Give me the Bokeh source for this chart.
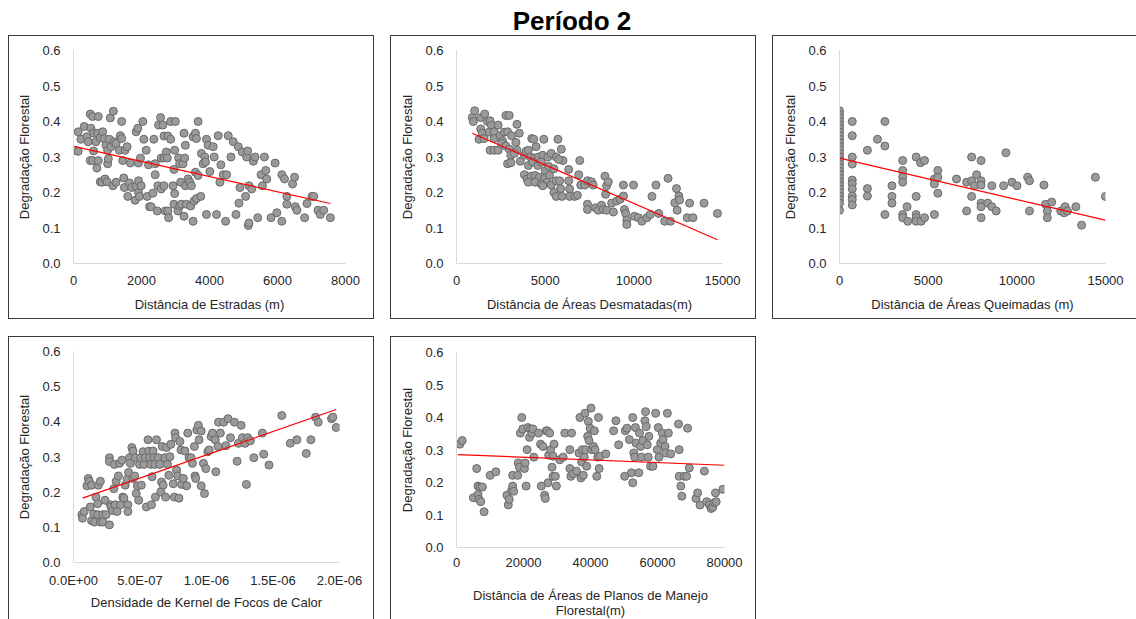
from bokeh.plotting import figure
from bokeh.layouts import row, column
from bokeh.models import Div, FixedTicker, PrintfTickFormatter, CustomJSTickFormatter, ColumnDataSource
from bokeh.embed import file_html
from bokeh.resources import INLINE

# ---------------- DATA ----------------
title_text = "Período 2"
y_label = "Degradação Florestal"
y_ticks = [0.0, 0.1, 0.2, 0.3, 0.4, 0.5, 0.6]

# Panel 1: Distância de Estradas (m)
estradas_label = "Distância de Estradas (m)"
estradas_ticks = [0, 2000, 4000, 6000, 8000]
estradas_pts = [
    (40, 0.319), (138, 0.316), (138, 0.371), (217, 0.35), (315, 0.386), (394, 0.357), (433, 0.343),
    (493, 0.421), (561, 0.414), (729, 0.414), (512, 0.381), (591, 0.367), (660, 0.343), (709, 0.367),
    (788, 0.354), (857, 0.371), (906, 0.352), (955, 0.333), (1054, 0.35), (493, 0.29), (561, 0.29),
    (591, 0.317), (689, 0.269), (729, 0.29), (788, 0.23), (837, 0.229), (926, 0.238), (985, 0.23),
    (1005, 0.281), (1025, 0.295), (1005, 0.319), (1103, 0.329), (1083, 0.41), (1172, 0.429),
    (1202, 0.343), (1251, 0.338), (1162, 0.219), (1251, 0.229), (1350, 0.319), (1379, 0.36),
    (1418, 0.352), (1418, 0.4), (1448, 0.29), (1478, 0.241), (1497, 0.214), (1517, 0.319),
    (1576, 0.329), (1596, 0.189), (1645, 0.227), (1674, 0.283), (1714, 0.214), (1812, 0.178),
    (1842, 0.217), (1842, 0.371), (1891, 0.381), (1911, 0.283), (1911, 0.233), (1911, 0.2),
    (1940, 0.189), (1970, 0.297), (1990, 0.219), (2039, 0.4), (2069, 0.35), (2138, 0.319),
    (2167, 0.189), (2207, 0.278), (2236, 0.16), (2285, 0.16), (2335, 0.198), (2364, 0.35),
    (2403, 0.25), (2403, 0.281), (2463, 0.148), (2482, 0.219), (2502, 0.39), (2561, 0.411),
    (2581, 0.21), (2581, 0.297), (2630, 0.39), (2660, 0.297), (2660, 0.219), (2660, 0.359),
    (2699, 0.148), (2729, 0.314), (2758, 0.297), (2778, 0.148), (2798, 0.129), (2778, 0.359),
    (2857, 0.4), (2857, 0.35), (2926, 0.219), (2955, 0.265), (2955, 0.167), (2975, 0.197),
    (2975, 0.319), (2995, 0.4), (3073, 0.148), (3093, 0.297), (3123, 0.162), (3123, 0.281),
    (3153, 0.229), (3172, 0.167), (3221, 0.281), (3251, 0.367), (3251, 0.133), (3270, 0.297),
    (3290, 0.219), (3290, 0.333), (3320, 0.167), (3369, 0.238), (3418, 0.229), (3448, 0.162),
    (3467, 0.219), (3517, 0.357), (3517, 0.119), (3546, 0.176), (3586, 0.257), (3586, 0.367),
    (3615, 0.352), (3615, 0.183), (3665, 0.4), (3665, 0.248), (3743, 0.189), (3763, 0.31),
    (3813, 0.281), (3862, 0.3), (3882, 0.286), (3911, 0.138), (3911, 0.35), (3960, 0.333),
    (4010, 0.259), (4108, 0.329), (4138, 0.3), (4207, 0.138), (4256, 0.36), (4305, 0.229),
    (4335, 0.278), (4404, 0.25), (4473, 0.119), (4502, 0.25), (4551, 0.36), (4630, 0.3),
    (4699, 0.343), (4778, 0.138), (4847, 0.329), (4866, 0.17), (4896, 0.214), (4965, 0.314),
    (5063, 0.189), (5093, 0.3), (5122, 0.317), (5142, 0.107), (5161, 0.114), (5161, 0.219),
    (5240, 0.21), (5290, 0.288), (5339, 0.3), (5418, 0.129), (5516, 0.25), (5556, 0.219),
    (5615, 0.3), (5654, 0.262), (5684, 0.238), (5812, 0.129), (5930, 0.283), (5980, 0.143),
    (6127, 0.119), (6127, 0.25), (6206, 0.238), (6275, 0.189), (6275, 0.167), (6443, 0.224),
    (6502, 0.243), (6522, 0.16), (6571, 0.15), (6798, 0.129), (6867, 0.169), (7015, 0.189),
    (7063, 0.189), (7191, 0.15), (7260, 0.138), (7358, 0.15), (7555, 0.129),
]
estradas_trend_x = [40, 7555]
estradas_trend_y = [0.329, 0.169]

# Panel 2: Distância de Áreas Desmatadas(m)
desmat_label = "Distância de Áreas Desmatadas(m)"
desmat_ticks = [0, 5000, 10000, 15000]
desmat_pts = [
    (890, 0.411), (1023, 0.43), (947, 0.4), (1364, 0.411), (1591, 0.421), (1742, 0.4), (1894, 0.402),
    (1970, 0.389), (1364, 0.379), (1458, 0.367), (1269, 0.35), (1553, 0.352), (1837, 0.37),
    (2121, 0.371), (2121, 0.352), (2348, 0.39), (2462, 0.36), (2595, 0.345), (2689, 0.37),
    (2784, 0.417), (2973, 0.417), (2879, 0.371), (3106, 0.36), (3409, 0.392), (3542, 0.367),
    (1894, 0.319), (2121, 0.319), (2348, 0.319), (2538, 0.338), (2784, 0.331), (2973, 0.322),
    (3068, 0.305), (3352, 0.341), (3409, 0.319), (2879, 0.281), (3068, 0.284), (3258, 0.31),
    (3598, 0.288), (3826, 0.305), (3920, 0.316), (4053, 0.319), (4242, 0.352), (4356, 0.35),
    (4489, 0.329), (4924, 0.35), (4167, 0.3), (4394, 0.297), (4621, 0.3), (4867, 0.305),
    (5151, 0.3), (5340, 0.31), (5624, 0.3), (5719, 0.35), (5908, 0.322), (6003, 0.29),
    (4053, 0.276), (4299, 0.286), (4583, 0.276), (4773, 0.286), (4999, 0.262), (5189, 0.274),
    (5492, 0.267), (5757, 0.293), (3826, 0.25), (3977, 0.238), (4204, 0.246), (4431, 0.248),
    (4678, 0.243), (4962, 0.24), (5246, 0.248), (4053, 0.229), (4431, 0.229), (4773, 0.224),
    (5113, 0.229), (5340, 0.221), (5624, 0.233), (5814, 0.233), (4867, 0.219), (5492, 0.2),
    (5624, 0.189), (5871, 0.211), (5946, 0.189), (6325, 0.233), (6381, 0.21), (6381, 0.189),
    (6666, 0.189), (6818, 0.192), (6325, 0.265), (6893, 0.25), (6950, 0.29), (7007, 0.221),
    (7235, 0.221), (7386, 0.233), (7614, 0.23), (7708, 0.221), (7386, 0.167), (7386, 0.152),
    (7841, 0.157), (7992, 0.15), (8181, 0.164), (8276, 0.152), (8465, 0.15), (8371, 0.246),
    (8465, 0.219), (8409, 0.195), (8560, 0.23), (8750, 0.17), (8844, 0.145), (9034, 0.176),
    (9223, 0.181), (9413, 0.19), (9413, 0.221), (9469, 0.152), (9545, 0.141), (9602, 0.122),
    (9602, 0.11), (9980, 0.221), (10037, 0.133), (10264, 0.129), (10454, 0.119), (10738, 0.129),
    (10927, 0.138), (11022, 0.189), (11249, 0.221), (11401, 0.141), (11742, 0.119), (12064, 0.119),
    (11931, 0.24), (12310, 0.171), (12405, 0.211), (12443, 0.15), (12538, 0.19), (12576, 0.179),
    (13011, 0.129), (13144, 0.17), (13333, 0.129), (13958, 0.17), (14716, 0.141),
]
desmat_trend_x = [890, 14716]
desmat_trend_y = [0.367, 0.067]

# Panel 3: Distância de Áreas Queimadas (m)
queim_label = "Distância de Áreas Queimadas (m)"
queim_ticks = [0, 5000, 10000, 15000]
queim_pts = [
    (0, 0.43), (0, 0.42), (0, 0.41), (0, 0.40), (0, 0.39), (0, 0.38), (0, 0.37), (0, 0.36),
    (0, 0.35), (0, 0.34), (0, 0.33), (0, 0.32), (0, 0.31), (0, 0.30), (0, 0.29), (0, 0.28),
    (0, 0.27), (0, 0.26), (0, 0.25), (0, 0.24), (0, 0.23), (0, 0.22), (0, 0.21), (0, 0.20),
    (0, 0.19), (0, 0.18), (0, 0.17), (0, 0.15),
    (720, 0.40), (720, 0.36), (720, 0.30), (720, 0.28), (720, 0.235), (720, 0.225), (720, 0.21),
    (720, 0.19), (720, 0.18), (720, 0.165),
    (1574, 0.319), (1574, 0.211), (1574, 0.19), (2142, 0.35), (2560, 0.4), (2560, 0.331),
    (2560, 0.138), (2958, 0.219), (2958, 0.189), (2958, 0.17), (3564, 0.29), (3564, 0.262),
    (3564, 0.243), (3564, 0.229), (3564, 0.138), (3564, 0.129), (3811, 0.16), (3849, 0.119),
    (4323, 0.3), (4323, 0.189), (4323, 0.138), (4323, 0.129), (4323, 0.119), (4569, 0.284),
    (4607, 0.119), (4797, 0.29), (4797, 0.129), (5352, 0.138), (5352, 0.238), (5352, 0.224),
    (5545, 0.262), (5545, 0.243), (5545, 0.198), (6598, 0.238), (7167, 0.229), (7167, 0.148),
    (7451, 0.3), (7451, 0.233), (7451, 0.189), (7603, 0.219), (7735, 0.25), (7982, 0.29),
    (7982, 0.233), (7982, 0.221), (7982, 0.17), (7982, 0.16), (7982, 0.129), (8361, 0.17),
    (8589, 0.219), (8589, 0.16), (8835, 0.148), (9252, 0.219), (9385, 0.312), (9726, 0.229),
    (10011, 0.219), (10618, 0.243), (10713, 0.233), (10713, 0.148), (11528, 0.221),
    (11623, 0.167), (11718, 0.148), (11718, 0.129), (11964, 0.173), (12476, 0.148),
    (12666, 0.143), (12723, 0.16), (12855, 0.148), (13329, 0.16), (13651, 0.108),
    (14429, 0.243), (14997, 0.189),
]
queim_trend_x = [0, 14997]
queim_trend_y = [0.297, 0.122]

# Panel 4: Densidade de Kernel de Focos de Calor
kernel_label = "Densidade de Kernel de Focos de Calor"
kernel_ticks = [0.0, 5.0e-7, 1.0e-6, 1.5e-6, 2.0e-6]
kernel_pts = [
    (0.63e-7, 0.136), (0.68e-7, 0.126), (0.81e-7, 0.145), (1.01e-7, 0.218), (1.11e-7, 0.239),
    (1.19e-7, 0.231), (1.26e-7, 0.158), (1.36e-7, 0.119), (1.36e-7, 0.22), (1.52e-7, 0.138),
    (1.57e-7, 0.115), (1.69e-7, 0.186), (1.82e-7, 0.167), (1.82e-7, 0.136), (1.87e-7, 0.22),
    (2.02e-7, 0.231), (2.02e-7, 0.115), (2.2e-7, 0.136), (2.2e-7, 0.115), (2.37e-7, 0.177),
    (2.45e-7, 0.136), (2.7e-7, 0.298), (2.7e-7, 0.287), (2.78e-7, 0.164), (2.83e-7, 0.158),
    (2.7e-7, 0.107), (2.95e-7, 0.148), (3.03e-7, 0.21), (3.08e-7, 0.279), (3.13e-7, 0.164),
    (3.21e-7, 0.231), (3.28e-7, 0.145), (3.38e-7, 0.246), (3.46e-7, 0.282), (3.54e-7, 0.164),
    (3.64e-7, 0.291), (3.71e-7, 0.186), (3.79e-7, 0.183), (3.89e-7, 0.22), (4.04e-7, 0.237),
    (4.09e-7, 0.164), (4.09e-7, 0.145), (4.14e-7, 0.256), (4.22e-7, 0.298), (4.29e-7, 0.282),
    (4.39e-7, 0.327), (4.47e-7, 0.317), (4.47e-7, 0.239), (4.6e-7, 0.246), (4.65e-7, 0.298),
    (4.72e-7, 0.196), (4.8e-7, 0.218), (4.9e-7, 0.177), (4.97e-7, 0.279), (5.05e-7, 0.298),
    (5.1e-7, 0.22), (5.23e-7, 0.315), (5.3e-7, 0.279), (5.4e-7, 0.298), (5.48e-7, 0.158),
    (5.6e-7, 0.349), (5.66e-7, 0.317), (5.73e-7, 0.298), (5.81e-7, 0.279), (5.86e-7, 0.164),
    (5.91e-7, 0.244), (5.98e-7, 0.317), (6.06e-7, 0.298), (6.11e-7, 0.279), (6.16e-7, 0.186),
    (6.24e-7, 0.349), (6.36e-7, 0.298), (6.49e-7, 0.279), (6.57e-7, 0.201), (6.62e-7, 0.229),
    (6.67e-7, 0.33), (6.74e-7, 0.22), (6.87e-7, 0.298), (6.92e-7, 0.186), (7.0e-7, 0.327),
    (7.07e-7, 0.279), (7.17e-7, 0.248), (7.25e-7, 0.301), (7.32e-7, 0.336), (7.5e-7, 0.224),
    (7.58e-7, 0.186), (7.63e-7, 0.368), (7.68e-7, 0.355), (7.75e-7, 0.263), (7.83e-7, 0.246),
    (7.93e-7, 0.183), (8.0e-7, 0.344), (8.08e-7, 0.32), (8.13e-7, 0.222), (8.26e-7, 0.239),
    (8.38e-7, 0.317), (8.51e-7, 0.218), (8.59e-7, 0.368), (8.69e-7, 0.298), (8.84e-7, 0.298),
    (8.94e-7, 0.282), (9.09e-7, 0.33), (9.14e-7, 0.246), (9.19e-7, 0.239), (9.27e-7, 0.377),
    (9.39e-7, 0.39), (9.44e-7, 0.349), (9.6e-7, 0.374), (9.6e-7, 0.218), (9.77e-7, 0.282),
    (9.85e-7, 0.196), (9.95e-7, 0.267), (10.1e-7, 0.315), (10.2e-7, 0.32), (10.35e-7, 0.358),
    (10.45e-7, 0.368), (10.66e-7, 0.349), (10.7e-7, 0.258), (10.86e-7, 0.33), (10.9e-7, 0.399),
    (11.04e-7, 0.368), (11.29e-7, 0.399), (11.46e-7, 0.332), (11.62e-7, 0.409), (11.8e-7, 0.355),
    (12.1e-7, 0.399), (12.3e-7, 0.288), (12.4e-7, 0.339), (12.6e-7, 0.39), (12.7e-7, 0.355),
    (12.9e-7, 0.339), (13.0e-7, 0.222), (13.1e-7, 0.355), (13.3e-7, 0.346), (13.56e-7, 0.298),
    (14.2e-7, 0.368), (14.3e-7, 0.308), (14.7e-7, 0.277), (15.66e-7, 0.418), (16.3e-7, 0.339),
    (16.8e-7, 0.349), (17.5e-7, 0.31), (17.85e-7, 0.349), (18.2e-7, 0.413), (18.4e-7, 0.399),
    (19.4e-7, 0.409), (19.5e-7, 0.413), (19.75e-7, 0.384),
]
kernel_trend_x = [0.68e-7, 19.75e-7]
kernel_trend_y = [0.183, 0.435]

# Panel 5: Distância de Áreas de Planos de Manejo Florestal(m)
manejo_label = "Distância de Áreas de Planos de Manejo\nFlorestal(m)"
manejo_ticks = [0, 20000, 40000, 60000, 80000]
manejo_pts = [
    (1004, 0.318), (1707, 0.329), (5020, 0.153), (6024, 0.243), (6426, 0.189), (6426, 0.163),
    (6727, 0.148), (7028, 0.186), (7229, 0.141), (7731, 0.186), (8233, 0.11), (10040, 0.222),
    (11747, 0.233), (15060, 0.161), (15462, 0.131), (15763, 0.148), (16466, 0.176), (16767, 0.189),
    (17068, 0.173), (16767, 0.222), (18273, 0.222), (18474, 0.26), (18775, 0.247), (19076, 0.352),
    (19478, 0.4), (19779, 0.365), (20281, 0.243), (20482, 0.26), (20783, 0.189), (21084, 0.301),
    (21285, 0.369), (21787, 0.339), (22088, 0.365), (22490, 0.352), (22791, 0.365), (23092, 0.278),
    (24497, 0.352), (25100, 0.318), (25301, 0.189), (25803, 0.311), (26305, 0.161), (26506, 0.151),
    (26807, 0.359), (27108, 0.359), (27309, 0.199), (27510, 0.284), (27811, 0.352), (28112, 0.301),
    (28514, 0.247), (28815, 0.219), (28815, 0.281), (29116, 0.318), (29518, 0.219), (29819, 0.189),
    (30823, 0.27), (31827, 0.278), (32329, 0.352), (33835, 0.301), (33835, 0.243), (34136, 0.219),
    (34337, 0.352), (34839, 0.227), (35843, 0.235), (36545, 0.291), (36846, 0.4), (37148, 0.214),
    (37349, 0.263), (37550, 0.301), (37851, 0.222), (38152, 0.278), (38353, 0.413), (38554, 0.301),
    (38855, 0.25), (39156, 0.342), (39357, 0.388), (39558, 0.329), (39859, 0.367), (40160, 0.429),
    (40361, 0.301), (40863, 0.311), (41164, 0.359), (41365, 0.301), (41868, 0.219), (42169, 0.278),
    (42370, 0.4), (42571, 0.243), (42872, 0.281), (44578, 0.288), (46887, 0.359), (47590, 0.39),
    (48393, 0.316), (50200, 0.219), (50400, 0.359), (50903, 0.367), (51606, 0.332), (52208, 0.23),
    (52610, 0.199), (52610, 0.4), (52911, 0.291), (53212, 0.278), (53413, 0.369), (53614, 0.321),
    (54417, 0.23), (54618, 0.352), (54919, 0.311), (55220, 0.278), (55622, 0.329), (56224, 0.39),
    (56425, 0.418), (56626, 0.372), (56927, 0.316), (57228, 0.278), (57429, 0.342), (57931, 0.25),
    (58634, 0.25), (59437, 0.413), (59939, 0.301), (60240, 0.369), (60441, 0.278), (60943, 0.321),
    (61445, 0.352), (61646, 0.332), (62248, 0.311), (62449, 0.291), (62951, 0.413), (63252, 0.352),
    (63955, 0.288), (66264, 0.38), (66465, 0.301), (66465, 0.219), (66967, 0.189), (67268, 0.158),
    (67971, 0.219), (68674, 0.219), (68975, 0.367), (69477, 0.245), (71486, 0.151), (71988, 0.168),
    (72691, 0.131), (73996, 0.235), (74699, 0.141), (75502, 0.131), (76004, 0.12), (76506, 0.124),
    (77008, 0.138), (77309, 0.168), (77510, 0.141), (79518, 0.179),
]
manejo_trend_x = [402, 80000]
manejo_trend_y = [0.286, 0.253]

# ---------------- STYLE ----------------
FONT = "Liberation Sans"
TXT = "#262626"
PT_FILL = "#9a9a9a"
PT_LINE = "#6a6a6a"
BORDER = "1px solid #3a3a3a"

sci_fmt = CustomJSTickFormatter(code="""
    if (tick == 0) { return "0.0E+00"; }
    const s = tick.toExponential(1).toUpperCase();
    const parts = s.split("E");
    const sign = parts[1][0];
    let d = parts[1].slice(1);
    if (d.length < 2) { d = "0" + d; }
    return parts[0] + "E" + sign + d;
""")


def panel(pts, tx, ty, xr, xticks, xlabel, w, h, ml, mr, mt, mb,
          xfmt=None, tick_standoff=6, label_standoff=9, label_lh=1.2,
          no_right=False, no_bottom=False):
    p = figure(width=w, height=h, x_range=xr, y_range=(0, 0.6),
               output_backend="svg", toolbar_location=None,
               min_border_left=ml, min_border_right=mr,
               min_border_top=mt, min_border_bottom=mb)
    p.outline_line_color = None
    p.grid.visible = False
    p.background_fill_color = "white"
    p.border_fill_color = "white"
    src = ColumnDataSource(dict(x=[a for a, b in pts], y=[b for a, b in pts]))
    p.scatter("x", "y", source=src, size=8, marker="circle",
              fill_color=PT_FILL, line_color=PT_LINE, line_width=1)
    p.line(tx, ty, line_color="#ff0000", line_width=1.2)

    p.xaxis.ticker = FixedTicker(ticks=xticks)
    p.yaxis.ticker = FixedTicker(ticks=y_ticks)
    p.yaxis.formatter = PrintfTickFormatter(format="%.1f")
    if xfmt is not None:
        p.xaxis.formatter = xfmt
    else:
        p.xaxis.formatter = PrintfTickFormatter(format="%d")
    p.xaxis.axis_label = xlabel
    p.yaxis.axis_label = y_label
    for ax in (p.xaxis[0], p.yaxis[0]):
        ax.major_tick_line_color = None
        ax.minor_tick_line_color = None
        ax.axis_line_color = "#d9d9d9"
        ax.axis_line_width = 1
        ax.major_label_text_font = FONT
        ax.major_label_text_font_size = "13px"
        ax.major_label_text_color = TXT
        ax.axis_label_text_font = FONT
        ax.axis_label_text_font_size = "13px"
        ax.axis_label_text_font_style = "normal"
        ax.axis_label_text_color = TXT
    p.xaxis.major_label_standoff = tick_standoff
    p.xaxis.axis_label_standoff = label_standoff
    p.xaxis.axis_label_text_line_height = label_lh
    p.yaxis.major_label_standoff = 7
    p.yaxis.axis_label_standoff = 7
    st = {"border-top": BORDER, "border-left": BORDER,
          "border-right": "none" if no_right else BORDER,
          "border-bottom": "none" if no_bottom else BORDER,
          "box-sizing": "border-box"}
    p.styles = st
    return p


p1 = panel(estradas_pts, estradas_trend_x, estradas_trend_y, (0, 8000), estradas_ticks,
           estradas_label, 366, 284, 64, 30, 14, 57)
p2 = panel(desmat_pts, desmat_trend_x, desmat_trend_y, (0, 15000), desmat_ticks,
           desmat_label, 366, 284, 65, 35, 14, 57)
p3 = panel(queim_pts, queim_trend_x, queim_trend_y, (0, 15000), queim_ticks,
           queim_label, 364, 284, 66, 32, 14, 57, no_right=True)
p4 = panel(kernel_pts, kernel_trend_x, kernel_trend_y, (0, 2.0e-6), kernel_ticks,
           kernel_label, 366, 283, 64, 36, 14, 58, xfmt=sci_fmt, tick_standoff=4, label_standoff=4,
           no_bottom=True)
p5 = panel(manejo_pts, manejo_trend_x, manejo_trend_y, (0, 80000), manejo_ticks,
           manejo_label, 366, 283, 65, 33, 15, 71, tick_standoff=4, label_standoff=18, label_lh=1.0,
           no_bottom=True)

title = Div(text=title_text, width=1128, height=27, margin=0,
            styles={"text-align": "center", "font-family": "'Liberation Sans', Arial, sans-serif",
                    "font-weight": "bold", "font-size": "26px", "line-height": "27px",
                    "color": "#000000", "width": "1128px"})

row1 = row(p1, p2, p3, spacing=16)
row2 = row(column(p4), column(p5), spacing=16)
layout = column(title, column(row1, row2, spacing=17), spacing=0, margin=(8, 0, 0, 8))

open("out.html", "w").write(file_html(layout, INLINE))
